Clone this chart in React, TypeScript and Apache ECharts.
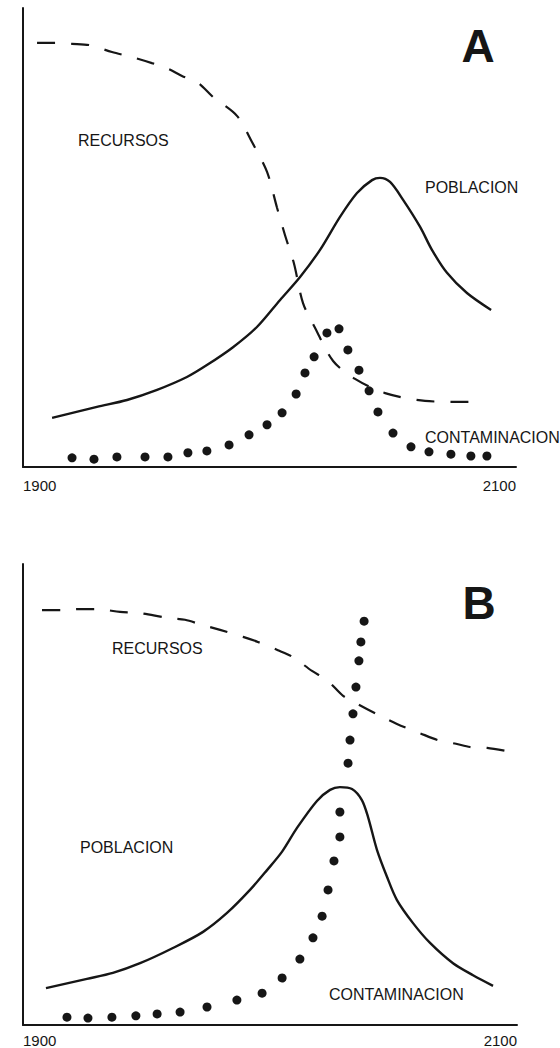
import React, { useEffect, useRef } from "react";
import * as echarts from "echarts";

// Year range / tick labels
const xTicks = [1900, 2100];

// Panel A
const recursosA = [
  [1905.7, 92.4], [1913, 92.4], [1919.9, 92.2], [1927.2, 91.9], [1936.1, 90.4],
  [1944.2, 89.3], [1952.3, 88.0], [1958.4, 86.9], [1964.5, 85.2], [1971, 83.7],
  [1977.1, 80.6], [1986.8, 76.5], [1992.9, 70.8], [1999, 64.3], [2003, 56.6],
  [2006.3, 50.5], [2009.9, 44.4], [2013.6, 35.7], [2018.5, 30.3], [2025.8, 23.1],
  [2034.7, 19.2], [2046.9, 16.1], [2063.1, 14.4], [2075.7, 14.2], [2084.2, 14.2],
];
const poblacionA = [
  [1911.8, 10.7], [1930, 13.1], [1942.2, 14.6], [1954.4, 16.8], [1966.5, 19.6],
  [1974.6, 22.2], [1985.2, 26.1], [1994.9, 30.5], [2004.3, 36.4], [2012.4, 41.4],
  [2020.5, 47.3], [2028.6, 54.5], [2035.5, 59.7], [2041.6, 62.5], [2044.8, 63.0],
  [2048.9, 62.1], [2054.2, 58.2], [2061.1, 52.3], [2065.9, 47.3], [2072, 42.3],
  [2080.1, 37.9], [2089.9, 34.2],
];
const contaminacionA = [
  [1919.9, 2.0], [1928.8, 1.7], [1938.1, 2.2], [1949.5, 2.2], [1958.8, 2.2],
  [1966.9, 3.1], [1974.6, 3.5], [1983.6, 4.8], [1991.7, 7.0], [1999, 9.2],
  [2005.1, 11.8], [2010.8, 15.9], [2014.4, 20.5], [2018.1, 24.0], [2023.3, 29.2],
  [2028.2, 30.1], [2031.8, 25.5], [2036.3, 21.1], [2040.4, 16.6], [2044, 12.0],
  [2050.1, 7.4], [2057.4, 4.4], [2064.7, 3.3], [2073.6, 2.8], [2081.7, 2.4],
  [2088.2, 2.4],
];

// Panel B
const recursosB = [
  [1907.7, 90.0], [1915.8, 90.0], [1921.9, 90.2], [1930.4, 90.2], [1939.3, 89.6],
  [1946.6, 89.4], [1958.7, 88.3], [1965.6, 87.9], [1972.5, 86.8], [1979.8, 85.7],
  [1989.1, 84.2], [1995.1, 83.1], [2003.2, 81.3], [2009.3, 79.8], [2017, 76.8],
  [2023.1, 74.8], [2029.6, 71.4], [2035.6, 69.6], [2044.1, 67.2], [2051.4, 65.3],
  [2060.7, 63.3], [2068, 61.8], [2075.3, 61.0], [2081, 60.3], [2087.9, 60.1],
  [2096, 59.4],
];
const poblacionB = [
  [1909.3, 8.0], [1925.9, 10.0], [1936.4, 11.3], [1947.4, 13.4], [1960.7, 16.7],
  [1972.9, 20.2], [1982.6, 24.3], [1991.9, 29.3], [1998.8, 33.6], [2004.9, 37.6],
  [2011, 42.8], [2019, 48.6], [2024.3, 51.0], [2028.3, 51.6], [2033.2, 51.2],
  [2037.2, 48.8], [2039.7, 45.1], [2043.3, 38.0], [2047.4, 32.1], [2051.4, 27.1],
  [2057.9, 22.1], [2064.8, 17.8], [2074.1, 13.4], [2082.2, 10.8], [2090.3, 8.5],
];
const contaminacionB = [
  [1917.8, 1.7], [1926.3, 1.5], [1936, 1.7], [1945.7, 2.0], [1954.3, 2.4],
  [1963.6, 2.8], [1974.5, 3.9], [1986.6, 5.4], [1996.8, 6.9], [2004.9, 10.2],
  [2012.1, 14.3], [2017.4, 18.9], [2021.1, 23.6], [2023.5, 29.3], [2025.9, 35.6],
  [2028.3, 40.8], [2028.3, 46.2], [2031.6, 56.8], [2032.4, 61.8], [2033.6, 67.5],
  [2034.8, 73.3], [2036, 79.0], [2036.8, 83.1], [2038.1, 87.6],
];

const seriesNames = ["RECURSOS", "POBLACION", "CONTAMINACION"];
const panelTitles = ["A", "B"];

export default function App() {
  const ref = useRef<HTMLDivElement>(null);

  useEffect(() => {
    if (!ref.current) return;
    const chart = echarts.init(ref.current, null, { renderer: "svg" });
    const ink = "#161616";
    const font = "'Liberation Sans', Arial, sans-serif";

    const xAxis = (gi: number, margin: number) => ({
      type: "value",
      gridIndex: gi,
      min: xTicks[0],
      max: xTicks[1],
      interval: xTicks[1] - xTicks[0],
      axisLine: { show: true, onZero: false, lineStyle: { color: ink, width: 2 } },
      axisTick: { show: false },
      splitLine: { show: false },
      axisLabel: {
        color: ink,
        fontSize: 15,
        fontFamily: font,
        margin,
        alignMinLabel: "left",
        alignMaxLabel: "right",
        formatter: (v: number) => String(v),
      },
    });
    const yAxis = (gi: number) => ({
      type: "value",
      gridIndex: gi,
      min: 0,
      max: 100,
      axisLine: { show: true, onZero: false, lineStyle: { color: ink, width: 2 } },
      axisTick: { show: false },
      axisLabel: { show: false },
      splitLine: { show: false },
    });

    const dashed = (data: number[][], gi: number) => ({
      type: "line",
      name: seriesNames[0],
      xAxisIndex: gi,
      yAxisIndex: gi,
      data,
      smooth: 0.3,
      showSymbol: false,
      lineStyle: { color: ink, width: 2.2, type: [18, 16] },
    });
    const solid = (data: number[][], gi: number) => ({
      type: "line",
      name: seriesNames[1],
      xAxisIndex: gi,
      yAxisIndex: gi,
      data,
      smooth: 0.3,
      showSymbol: false,
      lineStyle: { color: ink, width: 2.4 },
    });
    const dots = (data: number[][], gi: number) => ({
      type: "scatter",
      name: seriesNames[2],
      xAxisIndex: gi,
      yAxisIndex: gi,
      data,
      symbol: "circle",
      symbolSize: 9,
      itemStyle: { color: ink, opacity: 1 },
    });

    const label = (text: string, x: number, y: number) => ({
      type: "text",
      x,
      y,
      style: {
        text,
        fill: ink,
        font: `16px ${font}`,
        verticalAlign: "middle",
        align: "left",
      },
    });
    const title = (text: string, x: number, y: number) => ({
      type: "text",
      x,
      y,
      style: {
        text,
        fill: ink,
        font: `bold 46px ${font}`,
        verticalAlign: "middle",
        align: "center",
      },
    });

    chart.setOption({
      animation: false,
      backgroundColor: "#ffffff",
      grid: [
        { left: 23, top: 8, width: 493, height: 459 },
        { left: 23, top: 564, width: 494, height: 461 },
      ],
      xAxis: [xAxis(0, 11), xAxis(1, 8)],
      yAxis: [yAxis(0), yAxis(1)],
      series: [
        dashed(recursosA, 0),
        solid(poblacionA, 0),
        dots(contaminacionA, 0),
        dashed(recursosB, 1),
        solid(poblacionB, 1),
        dots(contaminacionB, 1),
      ],
      graphic: [
        title(panelTitles[0], 478, 46),
        label(seriesNames[0], 78, 140),
        label(seriesNames[1], 425, 187),
        label(seriesNames[2], 425, 437),
        title(panelTitles[1], 479, 603),
        label(seriesNames[0], 112, 648),
        label(seriesNames[1], 80, 847),
        label(seriesNames[2], 329, 994),
      ],
    });

    return () => chart.dispose();
  }, []);

  return (
    <div
      ref={ref}
      style={{ position: "fixed", left: 0, top: 0, width: 560, height: 1048, background: "#fff" }}
    />
  );
}
